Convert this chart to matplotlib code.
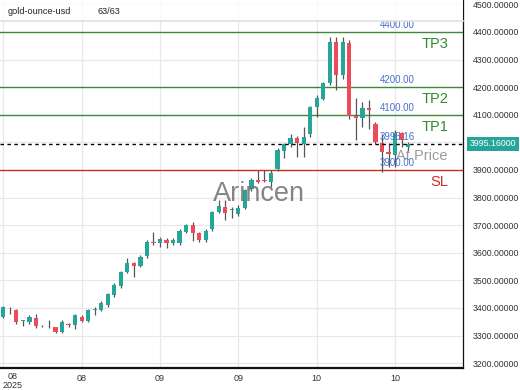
import matplotlib
matplotlib.use("Agg")
import matplotlib.pyplot as plt
import matplotlib.transforms as mtransforms
from matplotlib.patches import Rectangle

plt.rcParams['font.family'] = ['Liberation Sans', 'DejaVu Sans']

# ---- data ----
opens = [3367, 3395, 3392, 3352, 3350, 3364, 3336, 3330, 3330, 3312,
         3343, 3337, 3367, 3354, 3391, 3392, 3410, 3448, 3478, 3530,
         3563, 3552, 3590, 3640, 3636, 3648, 3636, 3637, 3677, 3702,
         3671, 3645, 3685, 3748, 3765, 3755, 3740, 3762, 3830, 3862,
         3864, 3858, 3903, 3970, 3993, 4015, 3995, 4032, 4129, 4159,
         4214, 4365, 4245, 4360, 4097, 4090, 4123, 4068, 3998, 3965,
         3955, 4034, 3983]
highs = [3408, 3403, 3395, 3358, 3373, 3378, 3338, 3358, 3332, 3355,
         3345, 3380, 3373, 3397, 3402, 3425, 3455, 3490, 3535, 3580,
         3566, 3591, 3645, 3676, 3656, 3652, 3655, 3685, 3705, 3710,
         3675, 3688, 3752, 3790, 3790, 3765, 3772, 3830, 3870, 3900,
         3900, 3900, 3978, 3998, 4032, 4022, 4056, 4133, 4170, 4220,
         4381, 4381, 4381, 4372, 4160, 4147, 4153, 4075, 4030, 3997,
         4044, 4036, 4002]
lows = [3362, 3380, 3343, 3333, 3343, 3328, 3332, 3328, 3310, 3310,
        3330, 3325, 3350, 3350, 3373, 3388, 3405, 3440, 3472, 3525,
        3512, 3547, 3580, 3627, 3620, 3616, 3630, 3627, 3670, 3642,
        3640, 3640, 3680, 3745, 3720, 3725, 3732, 3758, 3825, 3852,
        3855, 3838, 3898, 3943, 3985, 3947, 3947, 4020, 4093, 4152,
        4208, 4189, 4228, 4085, 4008, 4056, 4050, 3995, 3893, 3910,
        3910, 3985, 3970]
closes = [3403, 3398, 3350, 3355, 3367, 3335, 3334, 3332, 3312, 3348,
          3337, 3373, 3354, 3391, 3398, 3418, 3450, 3485, 3530, 3562,
          3553, 3585, 3640, 3636, 3650, 3634, 3645, 3680, 3700, 3672,
          3645, 3680, 3748, 3768, 3745, 3758, 3762, 3827, 3863, 3858,
          3860, 3890, 3972, 3993, 4015, 3998, 4020, 4129, 4160, 4214,
          4365, 4245, 4362, 4095, 4088, 4124, 4117, 4002, 3965, 3957,
          4034, 4008, 3995.16]

tick_idx = [0, 12, 24, 36, 48, 60]
tick_labels = ["08", "08", "09", "09", "10", "10"]
year_label = "2025"

y_ticks = [3200, 3300, 3400, 3500, 3600, 3700, 3800, 3900, 4000, 4100, 4200, 4300, 4400, 4500]

level_names = ["TP3", "TP2", "TP1", "At Price", "SL"]
level_values = [4400.00, 4200.00, 4100.00, 3995.16, 3900.00]
level_labels = ["4400.00", "4200.00", "4100.00", "3995.16", "3900.00"]

symbol = "gold-ounce-usd"
count_text = "63/63"
watermark = "Arincen"

# ---- style ----
GREEN = '#26a69a'
RED = '#ef4a5a'
WICK = '#555555'
LEVEL_COLORS = ['#3d8b37', '#3d8b37', '#3d8b37', '#000000', '#c9302c']
NAME_COLORS = ['#2e8b2e', '#2e8b2e', '#2e8b2e', '#8a8a8a', '#d62a2a']
BLUE = '#4a6fcf'

W, H = 520, 390
fig = plt.figure(figsize=(W / 100, H / 100), dpi=100)
ax_left, ax_right, ax_top, ax_bottom = 0, 463, 0, 368
ax = fig.add_axes([ax_left / W, (H - ax_bottom) / H, (ax_right - ax_left) / W, (ax_bottom - ax_top) / H])

ax.set_xlim(-0.5, 70.4)
ax.set_ylim(3182.6, 4515.9)

# grid
ax.set_axisbelow(True)
ax.set_yticks(y_ticks)
ax.set_xticks(tick_idx)
ax.grid(True, color='#e8e8e8', lw=0.9)

# candles
bw = 0.65
for i, (o, h, l, c) in enumerate(zip(opens, highs, lows, closes)):
    col = GREEN if c >= o else RED
    ax.vlines(i, l, h, color=WICK, lw=0.9, zorder=3)
    lo, hi = min(o, c), max(o, c)
    if hi - lo < 3:
        mid = (hi + lo) / 2
        lo, hi = mid - 1.5, mid + 1.5
    ax.add_patch(Rectangle((i - bw / 2, lo), bw, hi - lo, facecolor=col, edgecolor='none', zorder=4))

# levels
blend = mtransforms.blended_transform_factory(ax.transAxes, ax.transData)
for name, val, lab, lc, nc in zip(level_names, level_values, level_labels, LEVEL_COLORS, NAME_COLORS):
    if name == "At Price":
        ax.axhline(val, color=lc, lw=1.0, ls=(0, (2.5, 2.5)), zorder=5)
    else:
        ax.axhline(val, color=lc, lw=1.0, zorder=2)
    ax.annotate(lab, xy=(415 / 463, val), xycoords=blend, xytext=(0, 1.5), textcoords='offset points',
                ha='right', va='bottom', color=BLUE, fontsize=7.0, zorder=6)
    ax.annotate(name, xy=(448 / 463, val), xycoords=blend, xytext=(0, -3.5), textcoords='offset points',
                ha='right', va='top', color=nc, fontsize=10.5, zorder=6,
                alpha=0.85 if name == "At Price" else 1.0)

# watermark
ax.text(259 / 463, 1 - 194 / 368, watermark, transform=ax.transAxes, ha='center', va='center',
        fontsize=19.5, color='#707070', alpha=0.85, zorder=7)

# spines
for s in ['left', 'top']:
    ax.spines[s].set_visible(False)
ax.spines['bottom'].set_linewidth(1.6)
ax.spines['bottom'].set_color('#111111')
ax.spines['right'].set_linewidth(0.9)
ax.spines['right'].set_color('#111111')

# y axis on right (the 4000 label sits under the current-price box)
ax.yaxis.tick_right()
ax.set_yticklabels(["" if v == 4000 else f"{v:.5f}" for v in y_ticks])
ax.tick_params(axis='y', length=0, pad=7, labelsize=6.3, labelcolor='#333333')
ax.tick_params(axis='x', length=0, pad=4, labelsize=6.5, labelcolor='#333333')
ax.set_xticklabels([""] + tick_labels[1:])

xblend = mtransforms.blended_transform_factory(ax.transData, ax.transAxes)
ax.annotate(tick_labels[0] + "\n" + year_label, xy=(tick_idx[0], 0), xycoords=xblend,
            xytext=(7, -2.9), textcoords='offset points', ha='center', va='top',
            fontsize=6.5, color='#333333', linespacing=0.95, annotation_clip=False)

# current price box
ax.annotate(f"{closes[-1]:.5f}", xy=(1, closes[-1]), xycoords=blend, xytext=(5, 0),
            textcoords='offset points', ha='left', va='center', color='white', fontsize=6.3,
            bbox=dict(boxstyle='square,pad=0.3', fc=GREEN, ec='none'), annotation_clip=False, zorder=8)

# header overlay
hdr_h = 21
fig.patches.append(Rectangle((0, 1 - hdr_h / H), 463 / W, hdr_h / H, transform=fig.transFigure,
                             facecolor='white', alpha=0.8, edgecolor='none', zorder=10))
fig.add_artist(plt.Line2D([0, 463 / W], [1 - hdr_h / H, 1 - hdr_h / H], transform=fig.transFigure,
                          color='#e0e0e0', lw=1.2, zorder=11))
fig.text(8 / W, 1 - 12 / H, symbol, ha='left', va='center', fontsize=6.6, color='#222222', zorder=12)
fig.text(98 / W, 1 - 12 / H, count_text, ha='left', va='center', fontsize=6.6, color='#222222', zorder=12)

fig.savefig("out.png", dpi=100)
